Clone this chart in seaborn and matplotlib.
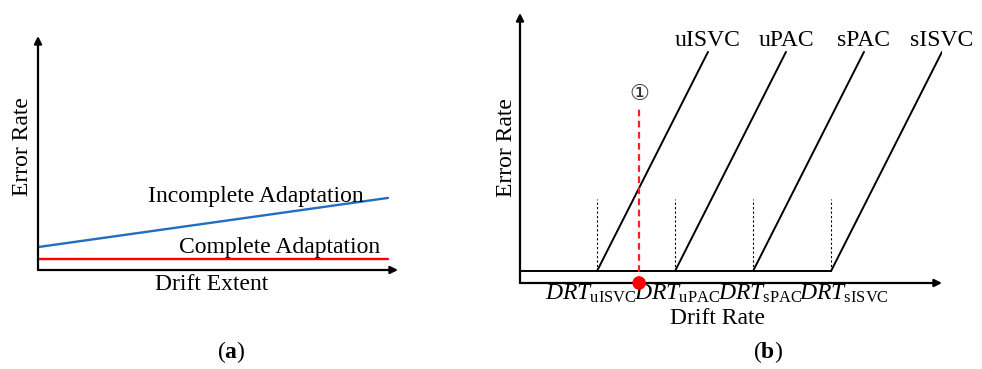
import numpy as np
import pandas as pd
import matplotlib
matplotlib.use("Agg")
import matplotlib.pyplot as plt
import seaborn as sns

sns.set_theme(style="white")
plt.rcParams['font.family'] = ['Liberation Serif', 'DejaVu Serif']
plt.rcParams['text.color'] = 'black'
plt.rcParams['mathtext.fontset'] = 'custom'
plt.rcParams['mathtext.rm'] = 'Liberation Serif'
plt.rcParams['mathtext.it'] = 'Liberation Serif:italic'
plt.rcParams['mathtext.bf'] = 'Liberation Serif:bold'

# ---------------- data: panel (a) ----------------
drift_extent = [0.0, 0.972]
incomplete_error = [0.098, 0.308]
complete_error = [0.047, 0.047]

# ---------------- data: panel (b) ----------------
models = ['uISVC', 'uPAC', 'sPAC', 'sISVC']
drt_thresholds = [1.0, 2.0, 3.0, 4.0]
base_error = 0.044
peak_error = 0.856
rise_width = 1.423
guide_height = 0.311
marked_rate = 1.54
marked_height = 0.656

FS = 17
fig = plt.figure(figsize=(9.82, 3.69), dpi=100)

# ---------------- panel (a) ----------------
axa = fig.add_axes([38/982, (369-270)/369, 360/982, 234/369])
axa.set_xlim(0, 1)
axa.set_ylim(0, 1)
axa.axis('off')
dfa = pd.DataFrame({'x': drift_extent, 'inc': incomplete_error, 'com': complete_error})
sns.lineplot(data=dfa, x='x', y='inc', ax=axa, color='#1f6fc0', lw=1.7)
sns.lineplot(data=dfa, x='x', y='com', ax=axa, color='#ff0000', lw=1.7)
arrow = dict(arrowstyle='-|>', color='black', lw=1.6, mutation_scale=11, shrinkA=0, shrinkB=0)
axa.annotate('', xy=(1, 0), xytext=(0, 0), xycoords='axes fraction', arrowprops=arrow)
axa.annotate('', xy=(0, 1), xytext=(0, 0), xycoords='axes fraction', arrowprops=arrow)
axa.text(0.606, 0.316, 'Incomplete Adaptation', fontsize=FS, ha='center', va='center')
axa.text(0.672, 0.098, 'Complete Adaptation', fontsize=FS, ha='center', va='center')
axa.text(-0.044, 0.526, 'Error Rate', fontsize=FS, ha='center', va='center', rotation=90)
axa.text(0.481, -0.064, 'Drift Extent', fontsize=FS, ha='center', va='center')
axa.text(0.536, -0.35, r'($\mathbf{a}$)', fontsize=FS, ha='center', va='center')

# ---------------- panel (b) ----------------
axb = fig.add_axes([520/982, (369-283)/369, 422/982, 270/369])
x0 = 1 - 77/78
axb.set_xlim(x0, 1 + 345/78)
axb.set_ylim(0, 1)
axb.axis('off')
axb.annotate('', xy=(1, 0), xytext=(0, 0), xycoords='axes fraction', arrowprops=arrow)
axb.annotate('', xy=(0, 1), xytext=(0, 0), xycoords='axes fraction', arrowprops=arrow)

label_dx = [-6/78, 2.5/78, 7/78, 12.5/78]
# baseline
sns.lineplot(x=[x0, drt_thresholds[-1]], y=[base_error, base_error], ax=axb, color='black', lw=1.4)
for m, t, dx in zip(models, drt_thresholds, label_dx):
    sns.lineplot(x=[t, t + rise_width], y=[base_error, peak_error], ax=axb, color='black', lw=1.4)
    axb.plot([t, t], [base_error, guide_height], color='black', lw=0.8, ls=(0, (2, 2)))
    axb.text(t + rise_width, 0.878, m, fontsize=FS, ha='center', va='baseline')
    axb.text(t + dx, -0.063, r'$DRT_{\mathrm{' + m + '}}$', fontsize=FS, ha='center', va='baseline')

axb.plot([marked_rate, marked_rate], [0, marked_height], color='#ff2020', lw=1.6, ls=(0, (3, 2)))
sns.scatterplot(x=[marked_rate], y=[0], ax=axb, color='#ff0000', s=95, edgecolor='none', zorder=5, clip_on=False)
axb.text(marked_rate, 0.696, '①', fontsize=16, ha='center', va='center', color='#333333',
         family=['Liberation Serif', 'DejaVu Sans', 'Noto Sans CJK SC'])
axb.text(x0 - 13/78, 0.5, 'Error Rate', fontsize=FS, ha='center', va='center', rotation=90)
axb.text(x0 + 197/78, -0.13, 'Drift Rate', fontsize=FS, ha='center', va='center')
axb.text(x0 + 248/78, -0.256, r'($\mathbf{b}$)', fontsize=FS, ha='center', va='center')

fig.savefig('out.png', dpi=100)
